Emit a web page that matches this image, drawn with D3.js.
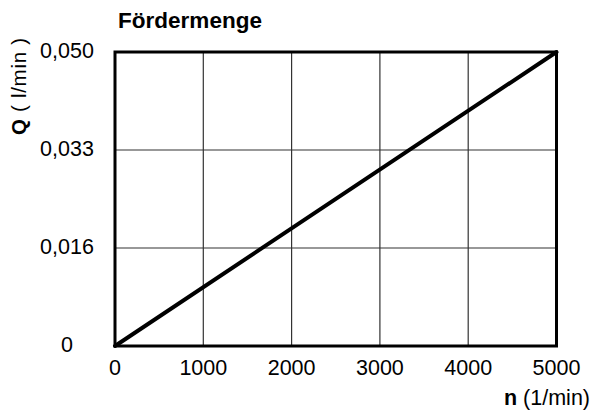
<!DOCTYPE html>
<html>
<head>
<meta charset="utf-8">
<script src="https://cdn.jsdelivr.net/npm/d3@7"></script>
<style>
  html, body { margin: 0; padding: 0; background: #fff; }
  svg { display: block; }
  text { font-family: "Liberation Sans", Arial, sans-serif; fill: #000; }
</style>
</head>
<body>
<svg id="chart" width="593" height="414"></svg>
<script>
// ---- data ----
const nValues = [0, 5000];
const qValues = [0, 0.05];
const xTickValues = [0, 1000, 2000, 3000, 4000, 5000];
const xTickLabels = ["0", "1000", "2000", "3000", "4000", "5000"];
const yTickValues = [0, 0.05 / 3, 0.1 / 3, 0.05];
const yTickLabels = ["0", "0,016", "0,033", "0,050"];
const chartTitle = "Fördermenge";

// ---- layout ----
const svg = d3.select("#chart");
const pL = 115, pR = 556.5, pT = 52, pB = 346;
const x = d3.scaleLinear().domain([0, 5000]).range([pL, pR]);
const y = d3.scaleLinear().domain([0, 0.05]).range([pB, pT]);

// grid
const grid = svg.append("g");
grid.selectAll("line.v").data(xTickValues.slice(1, -1)).join("line")
  .attr("class", "v")
  .attr("x1", d => x(d)).attr("x2", d => x(d))
  .attr("y1", pT).attr("y2", pB)
  .attr("stroke", "#333").attr("stroke-width", 1.2);
grid.selectAll("line.h").data(yTickValues.slice(1, -1)).join("line")
  .attr("class", "h")
  .attr("x1", pL).attr("x2", pR)
  .attr("y1", d => y(d)).attr("y2", d => y(d))
  .attr("stroke", "#333").attr("stroke-width", 1.2);

// data line
const pts = nValues.map((n, i) => [n, qValues[i]]);
svg.append("path")
  .datum(pts)
  .attr("d", d3.line().x(d => x(d[0])).y(d => y(d[1])))
  .attr("fill", "none").attr("stroke", "#000").attr("stroke-width", 4)
  .attr("stroke-linecap", "round");

// frame
svg.append("rect")
  .attr("x", pL).attr("y", pT)
  .attr("width", pR - pL).attr("height", pB - pT)
  .attr("fill", "none").attr("stroke", "#000").attr("stroke-width", 3);

// x tick labels
svg.append("g").selectAll("text").data(xTickValues).join("text")
  .attr("x", d => x(d)).attr("y", 375)
  .attr("text-anchor", "middle")
  .style("font-size", "21.5px")
  .text((d, i) => xTickLabels[i]);

// y tick labels
svg.append("g").selectAll("text").data(yTickValues).join("text")
  .attr("x", 67).attr("y", d => y(d) + 6)
  .attr("text-anchor", "middle")
  .style("font-size", "21.5px")
  .text((d, i) => yTickLabels[i]);

// title
svg.append("text")
  .attr("x", 118).attr("y", 28)
  .attr("textLength", 144).attr("lengthAdjust", "spacingAndGlyphs")
  .style("font-size", "21.5px").style("font-weight", "bold")
  .text(chartTitle);

// x axis label
const xl = svg.append("text")
  .attr("x", 590).attr("y", 405)
  .attr("text-anchor", "end")
  .style("font-size", "21.5px");
xl.append("tspan").style("font-weight", "bold").text("n");
xl.append("tspan").text(" (1/min)");

// y axis label
const yl = svg.append("text")
  .attr("transform", "translate(26,135) rotate(-90)")
  .attr("text-anchor", "start")
  .attr("textLength", 97).attr("lengthAdjust", "spacing")
  .style("font-size", "20.5px");
yl.append("tspan").style("font-weight", "bold").text("Q");
yl.append("tspan").text(" ( l/min )");
</script>
</body>
</html>
